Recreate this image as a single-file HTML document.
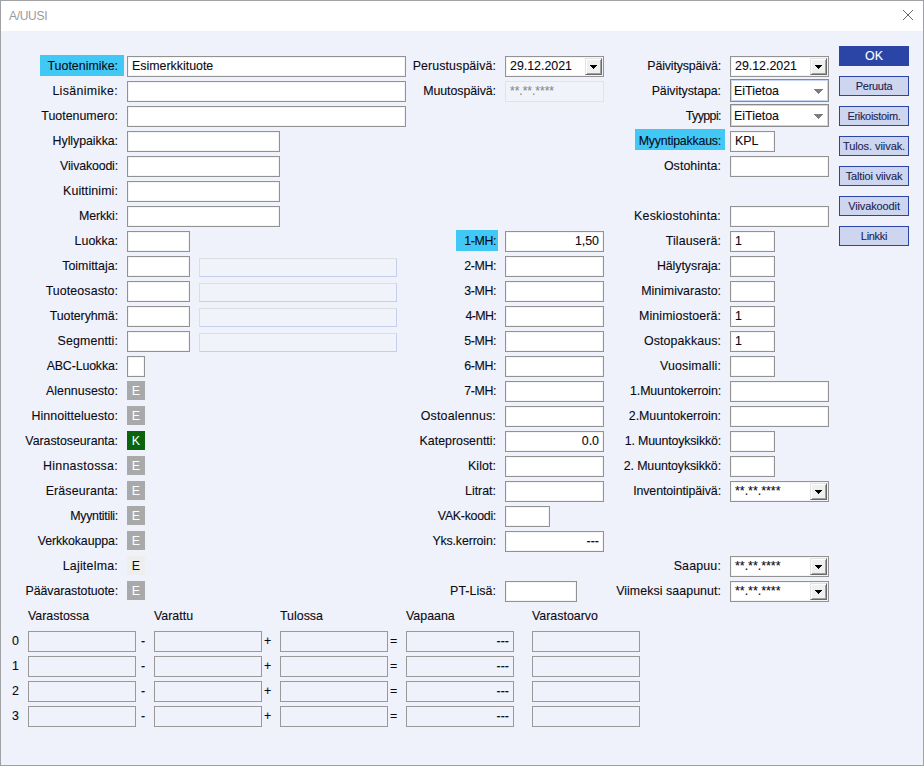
<!DOCTYPE html>
<html><head><meta charset="utf-8"><title>A/UUSI</title>
<style>
html,body{margin:0;padding:0}
body{width:924px;height:766px;overflow:hidden;background:#eff2fa;font-family:"Liberation Sans",sans-serif;font-size:12.4px;color:#0a0a14;-webkit-text-stroke:0.1px;position:relative}
#win{position:absolute;left:0;top:0;width:924px;height:766px;border:1px solid #a0a1a4;background:#eff2fa}
#tb{position:absolute;left:1px;top:1px;width:922px;height:30px;background:#fff}
#tt{-webkit-text-stroke:0;position:absolute;left:8px;top:8px;font-size:12px;letter-spacing:-0.3px;color:#999;line-height:15px}
#cx{position:absolute;left:902px;top:9px}
div{box-sizing:border-box}
.lb{position:absolute;width:200px;text-align:right;height:21px;line-height:20px;white-space:nowrap}
.hl{position:absolute;height:21px;background:#41c8f4}
.in{position:absolute;background:#fff;border:1px solid #929292;box-shadow:inset 0 0 0 1px #f4f4f4;padding:0 4px;white-space:nowrap;overflow:hidden}
.dis{position:absolute;background:#f0f3fa;border:1px solid #dde3f0;padding:0 4px;white-space:nowrap;overflow:hidden}
.d2{border-color:#dedee2 #c5cef0 #c5cef0 #dedee2}
.dst{color:#8a8a8a;font-size:12px}
.dt{padding-left:4px}
.db{position:absolute;display:block;left:79px;top:1px;width:17px;height:17px;box-sizing:border-box;background:#f0f0f0;border:1px solid;border-color:#e3e3e3 #696969 #696969 #e3e3e3;box-shadow:inset 1px 1px 0 #fff,inset -1px -1px 0 #a0a0a0}
.db svg{position:absolute;left:4px;top:6px;display:block}
.cb{position:absolute;width:99px;height:23px;background:#fff;border:1px solid #8a8a8a;box-shadow:inset 0 0 0 1px #c9d3f3;padding:1px 3px 0;line-height:21px;white-space:nowrap}
.cb svg{position:absolute;left:83px;top:9px;display:block}
.fl{-webkit-text-stroke:0;position:absolute;width:18px;height:19px;line-height:21px;text-align:center;color:#fff}
.fl.g{background:#a9a9a9}
.fl.k{background:#0b640b}
.fl.p{background:#eeeeee;color:#111}
.bt{position:absolute;left:839px;width:70px;height:20px;line-height:18px;text-align:center;font-size:11px;letter-spacing:-0.3px;color:#1c2352;background:#cdd5ef;border:1px solid #2b45a7;white-space:nowrap}
.bt.ok{background:#2b45a7;color:#fff;font-size:12.4px;letter-spacing:0}
.th{position:absolute;height:17px;line-height:17px;white-space:nowrap}
.tb{position:absolute;width:108px;height:21px;line-height:19px;border:1px solid #999;background:#eff2fa;text-align:right;padding:0 4px}
</style></head><body>
<div id="win"></div>
<div id="tb"><div id="tt">A/UUSI</div></div>
<svg id="cx" width="12" height="12" viewBox="0 0 12 12"><path d="M1 1 L11 11 M11 1 L1 11" stroke="#666" stroke-width="1" fill="none"/></svg>
<div class="hl" style="left:40px;top:55px;width:84px"></div>
<div class="lb" style="left:-82px;top:56px">Tuotenimike:</div>
<div class="lb" style="left:-82px;top:81px;letter-spacing:0.33px">Lisänimike:</div>
<div class="lb" style="left:-82px;top:106px">Tuotenumero:</div>
<div class="lb" style="left:-82px;top:131px;letter-spacing:-0.06px">Hyllypaikka:</div>
<div class="lb" style="left:-82px;top:156px;letter-spacing:-0.16px">Viivakoodi:</div>
<div class="lb" style="left:-82px;top:181px;letter-spacing:0.11px">Kuittinimi:</div>
<div class="lb" style="left:-82px;top:206px;letter-spacing:-0.13px">Merkki:</div>
<div class="lb" style="left:-82px;top:231px">Luokka:</div>
<div class="lb" style="left:-82px;top:256px">Toimittaja:</div>
<div class="lb" style="left:-82px;top:281px;letter-spacing:0.1px">Tuoteosasto:</div>
<div class="lb" style="left:-82px;top:306px;letter-spacing:-0.08px">Tuoteryhmä:</div>
<div class="lb" style="left:-82px;top:331px;letter-spacing:0.12px">Segmentti:</div>
<div class="lb" style="left:-82px;top:356px;letter-spacing:-0.15px">ABC-Luokka:</div>
<div class="lb" style="left:-82px;top:381px;letter-spacing:0.04px">Alennusesto:</div>
<div class="lb" style="left:-82px;top:406px;letter-spacing:0.07px">Hinnoitteluesto:</div>
<div class="lb" style="left:-82px;top:431px;letter-spacing:-0.05px">Varastoseuranta:</div>
<div class="lb" style="left:-82px;top:456px;letter-spacing:0.28px">Hinnastossa:</div>
<div class="lb" style="left:-82px;top:481px;letter-spacing:0.11px">Eräseuranta:</div>
<div class="lb" style="left:-82px;top:506px;letter-spacing:-0.29px">Myyntitili:</div>
<div class="lb" style="left:-82px;top:531px;letter-spacing:-0.13px">Verkkokauppa:</div>
<div class="lb" style="left:-82px;top:556px;letter-spacing:0.23px">Lajitelma:</div>
<div class="lb" style="left:-82px;top:581px;letter-spacing:-0.07px">Päävarastotuote:</div>
<div class="in" style="left:127px;top:56px;width:279px;height:21px;line-height:19px;">Esimerkkituote</div>
<div class="in" style="left:127px;top:81px;width:279px;height:21px;line-height:19px;"></div>
<div class="in" style="left:127px;top:106px;width:279px;height:21px;line-height:19px;"></div>
<div class="in" style="left:127px;top:131px;width:153px;height:21px;line-height:19px;"></div>
<div class="in" style="left:127px;top:156px;width:153px;height:21px;line-height:19px;"></div>
<div class="in" style="left:127px;top:181px;width:153px;height:21px;line-height:19px;"></div>
<div class="in" style="left:127px;top:206px;width:153px;height:21px;line-height:19px;"></div>
<div class="in" style="left:127px;top:231px;width:63px;height:21px;line-height:19px;"></div>
<div class="in" style="left:127px;top:256px;width:63px;height:21px;line-height:19px;"></div>
<div class="in" style="left:127px;top:281px;width:63px;height:21px;line-height:19px;"></div>
<div class="in" style="left:127px;top:306px;width:63px;height:21px;line-height:19px;"></div>
<div class="in" style="left:127px;top:331px;width:63px;height:21px;line-height:19px;"></div>
<div class="dis d2" style="left:199px;top:258px;width:198px;height:19px;line-height:17px;"></div>
<div class="dis d2" style="left:199px;top:283px;width:198px;height:19px;line-height:17px;"></div>
<div class="dis d2" style="left:199px;top:308px;width:198px;height:19px;line-height:17px;"></div>
<div class="dis d2" style="left:199px;top:333px;width:198px;height:19px;line-height:17px;"></div>
<div class="in" style="left:127px;top:356px;width:18px;height:21px;line-height:19px;"></div>
<div class="fl g" style="left:127px;top:381px">E</div>
<div class="fl g" style="left:127px;top:406px">E</div>
<div class="fl k" style="left:127px;top:431px">K</div>
<div class="fl g" style="left:127px;top:456px">E</div>
<div class="fl g" style="left:127px;top:481px">E</div>
<div class="fl g" style="left:127px;top:506px">E</div>
<div class="fl g" style="left:127px;top:531px">E</div>
<div class="fl p" style="left:127px;top:556px">E</div>
<div class="fl g" style="left:127px;top:581px">E</div>
<div class="lb" style="left:296px;top:56px;letter-spacing:0.09px">Perustuspäivä:</div>
<div class="in dt" style="left:505px;top:56px;width:99px;height:21px;line-height:19px">29.12.2021<span class="db"><svg width="7" height="4" viewBox="0 0 7 4" shape-rendering="crispEdges"><path d="M0 0h7v1h-7zM1 1h5v1h-5zM2 2h3v1h-3zM3 3h1v1h-1z" fill="#000"/></svg></span></div>
<div class="lb" style="left:296px;top:81px;letter-spacing:-0.08px">Muutospäivä:</div>
<div class="dis dst" style="left:505px;top:81px;width:99px;height:21px;line-height:19px;">**.**.****</div>
<div class="hl" style="left:456px;top:230px;width:42px"></div>
<div class="lb" style="left:296px;top:231px;letter-spacing:-0.42px">1-MH:</div>
<div class="in" style="left:505px;top:231px;width:99px;height:21px;line-height:19px;text-align:right;">1,50</div>
<div class="lb" style="left:296px;top:256px;letter-spacing:-0.42px">2-MH:</div>
<div class="in" style="left:505px;top:256px;width:99px;height:21px;line-height:19px;text-align:right;"></div>
<div class="lb" style="left:296px;top:281px;letter-spacing:-0.42px">3-MH:</div>
<div class="in" style="left:505px;top:281px;width:99px;height:21px;line-height:19px;text-align:right;"></div>
<div class="lb" style="left:296px;top:306px;letter-spacing:-0.67px">4-MH:</div>
<div class="in" style="left:505px;top:306px;width:99px;height:21px;line-height:19px;text-align:right;"></div>
<div class="lb" style="left:296px;top:331px;letter-spacing:-0.42px">5-MH:</div>
<div class="in" style="left:505px;top:331px;width:99px;height:21px;line-height:19px;text-align:right;"></div>
<div class="lb" style="left:296px;top:356px;letter-spacing:-0.42px">6-MH:</div>
<div class="in" style="left:505px;top:356px;width:99px;height:21px;line-height:19px;text-align:right;"></div>
<div class="lb" style="left:296px;top:381px;letter-spacing:-0.42px">7-MH:</div>
<div class="in" style="left:505px;top:381px;width:99px;height:21px;line-height:19px;text-align:right;"></div>
<div class="lb" style="left:296px;top:406px;letter-spacing:0.19px">Ostoalennus:</div>
<div class="in" style="left:505px;top:406px;width:99px;height:21px;line-height:19px;text-align:right;"></div>
<div class="lb" style="left:296px;top:431px">Kateprosentti:</div>
<div class="in" style="left:505px;top:431px;width:99px;height:21px;line-height:19px;text-align:right;">0.0</div>
<div class="lb" style="left:296px;top:456px;letter-spacing:0.08px">Kilot:</div>
<div class="in" style="left:505px;top:456px;width:99px;height:21px;line-height:19px;text-align:right;"></div>
<div class="lb" style="left:296px;top:481px">Litrat:</div>
<div class="in" style="left:505px;top:481px;width:99px;height:21px;line-height:19px;text-align:right;"></div>
<div class="lb" style="left:296px;top:506px;letter-spacing:-0.29px">VAK-koodi:</div>
<div class="in" style="left:505px;top:506px;width:45px;height:21px;line-height:19px;"></div>
<div class="lb" style="left:296px;top:531px;letter-spacing:-0.15px">Yks.kerroin:</div>
<div class="in" style="left:505px;top:531px;width:99px;height:21px;line-height:19px;text-align:right;">---</div>
<div class="lb" style="left:296px;top:581px;letter-spacing:0.06px">PT-Lisä:</div>
<div class="in" style="left:505px;top:581px;width:72px;height:21px;line-height:19px;"></div>
<div class="lb" style="left:521px;top:56px;letter-spacing:-0.15px">Päivityspäivä:</div>
<div class="in dt" style="left:730px;top:56px;width:99px;height:21px;line-height:19px">29.12.2021<span class="db"><svg width="7" height="4" viewBox="0 0 7 4" shape-rendering="crispEdges"><path d="M0 0h7v1h-7zM1 1h5v1h-5zM2 2h3v1h-3zM3 3h1v1h-1z" fill="#000"/></svg></span></div>
<div class="lb" style="left:521px;top:81px;letter-spacing:-0.07px">Päivitystapa:</div>
<div class="cb" style="left:730px;top:79px">EiTietoa<svg width="9" height="5" viewBox="0 0 9 5" shape-rendering="crispEdges"><path d="M0 0h9v1h-9zM1 1h7v1h-7zM2 2h5v1h-5zM3 3h3v1h-3zM4 4h1v1h-1z" fill="#7d7d7d"/></svg></div>
<div class="lb" style="left:521px;top:106px;letter-spacing:-0.57px">Tyyppi:</div>
<div class="cb" style="left:730px;top:104px">EiTietoa<svg width="9" height="5" viewBox="0 0 9 5" shape-rendering="crispEdges"><path d="M0 0h9v1h-9zM1 1h7v1h-7zM2 2h5v1h-5zM3 3h3v1h-3zM4 4h1v1h-1z" fill="#7d7d7d"/></svg></div>
<div class="hl" style="left:635px;top:129px;width:90px"></div>
<div class="lb" style="left:521px;top:131px;letter-spacing:-0.22px">Myyntipakkaus:</div>
<div class="in" style="left:730px;top:131px;width:45px;height:21px;line-height:19px;">KPL</div>
<div class="lb" style="left:521px;top:156px;letter-spacing:0.06px">Ostohinta:</div>
<div class="in" style="left:730px;top:156px;width:99px;height:21px;line-height:19px;"></div>
<div class="lb" style="left:521px;top:206px;letter-spacing:0.19px">Keskiostohinta:</div>
<div class="in" style="left:730px;top:206px;width:99px;height:21px;line-height:19px;"></div>
<div class="lb" style="left:521px;top:231px;letter-spacing:0.13px">Tilauserä:</div>
<div class="in" style="left:730px;top:231px;width:45px;height:21px;line-height:19px;">1</div>
<div class="lb" style="left:521px;top:256px;letter-spacing:-0.05px">Hälytysraja:</div>
<div class="in" style="left:730px;top:256px;width:45px;height:21px;line-height:19px;"></div>
<div class="lb" style="left:521px;top:281px">Minimivarasto:</div>
<div class="in" style="left:730px;top:281px;width:45px;height:21px;line-height:19px;"></div>
<div class="lb" style="left:521px;top:306px;letter-spacing:0.1px">Minimiostoerä:</div>
<div class="in" style="left:730px;top:306px;width:45px;height:21px;line-height:19px;">1</div>
<div class="lb" style="left:521px;top:331px;letter-spacing:0.1px">Ostopakkaus:</div>
<div class="in" style="left:730px;top:331px;width:45px;height:21px;line-height:19px;">1</div>
<div class="lb" style="left:521px;top:356px;letter-spacing:0.13px">Vuosimalli:</div>
<div class="in" style="left:730px;top:356px;width:45px;height:21px;line-height:19px;"></div>
<div class="lb" style="left:521px;top:381px;letter-spacing:-0.13px">1.Muuntokerroin:</div>
<div class="in" style="left:730px;top:381px;width:99px;height:21px;line-height:19px;"></div>
<div class="lb" style="left:521px;top:406px;letter-spacing:-0.05px">2.Muuntokerroin:</div>
<div class="in" style="left:730px;top:406px;width:99px;height:21px;line-height:19px;"></div>
<div class="lb" style="left:521px;top:431px;letter-spacing:-0.17px">1. Muuntoyksikkö:</div>
<div class="in" style="left:730px;top:431px;width:45px;height:21px;line-height:19px;"></div>
<div class="lb" style="left:521px;top:456px;letter-spacing:-0.11px">2. Muuntoyksikkö:</div>
<div class="in" style="left:730px;top:456px;width:45px;height:21px;line-height:19px;"></div>
<div class="lb" style="left:521px;top:481px;letter-spacing:-0.1px">Inventointipäivä:</div>
<div class="in dt" style="left:730px;top:481px;width:99px;height:21px;line-height:19px">**.**.****<span class="db"><svg width="7" height="4" viewBox="0 0 7 4" shape-rendering="crispEdges"><path d="M0 0h7v1h-7zM1 1h5v1h-5zM2 2h3v1h-3zM3 3h1v1h-1z" fill="#000"/></svg></span></div>
<div class="lb" style="left:521px;top:556px;letter-spacing:0.17px">Saapuu:</div>
<div class="in dt" style="left:730px;top:556px;width:99px;height:21px;line-height:19px">**.**.****<span class="db"><svg width="7" height="4" viewBox="0 0 7 4" shape-rendering="crispEdges"><path d="M0 0h7v1h-7zM1 1h5v1h-5zM2 2h3v1h-3zM3 3h1v1h-1z" fill="#000"/></svg></span></div>
<div class="lb" style="left:521px;top:581px;letter-spacing:0.06px">Viimeksi saapunut:</div>
<div class="in dt" style="left:730px;top:581px;width:99px;height:21px;line-height:19px">**.**.****<span class="db"><svg width="7" height="4" viewBox="0 0 7 4" shape-rendering="crispEdges"><path d="M0 0h7v1h-7zM1 1h5v1h-5zM2 2h3v1h-3zM3 3h1v1h-1z" fill="#000"/></svg></span></div>
<div class="bt ok" style="top:46px">OK</div>
<div class="bt" style="top:76px">Peruuta</div>
<div class="bt" style="top:106px">Erikoistoim.</div>
<div class="bt" style="top:136px;letter-spacing:-0.07px">Tulos. viivak.</div>
<div class="bt" style="top:166px;letter-spacing:-0.15px">Taltioi viivak</div>
<div class="bt" style="top:196px;letter-spacing:-0.12px">Viivakoodit</div>
<div class="bt" style="top:226px">Linkki</div>
<div class="th" style="left:28px;top:608px">Varastossa</div>
<div class="th" style="left:154px;top:608px">Varattu</div>
<div class="th" style="left:280px;top:608px">Tulossa</div>
<div class="th" style="left:406px;top:608px">Vapaana</div>
<div class="th" style="left:532px;top:608px">Varastoarvo</div>
<div class="th" style="left:12px;top:633px">0</div>
<div class="tb" style="left:28px;top:631px"></div>
<div class="tb" style="left:154px;top:631px"></div>
<div class="tb" style="left:280px;top:631px"></div>
<div class="tb" style="left:406px;top:631px">---</div>
<div class="tb" style="left:532px;top:631px"></div>
<div class="th" style="left:141px;top:633px">-</div>
<div class="th" style="left:264px;top:633px">+</div>
<div class="th" style="left:390px;top:633px">=</div>
<div class="th" style="left:12px;top:658px">1</div>
<div class="tb" style="left:28px;top:656px"></div>
<div class="tb" style="left:154px;top:656px"></div>
<div class="tb" style="left:280px;top:656px"></div>
<div class="tb" style="left:406px;top:656px">---</div>
<div class="tb" style="left:532px;top:656px"></div>
<div class="th" style="left:141px;top:658px">-</div>
<div class="th" style="left:264px;top:658px">+</div>
<div class="th" style="left:390px;top:658px">=</div>
<div class="th" style="left:12px;top:683px">2</div>
<div class="tb" style="left:28px;top:681px"></div>
<div class="tb" style="left:154px;top:681px"></div>
<div class="tb" style="left:280px;top:681px"></div>
<div class="tb" style="left:406px;top:681px">---</div>
<div class="tb" style="left:532px;top:681px"></div>
<div class="th" style="left:141px;top:683px">-</div>
<div class="th" style="left:264px;top:683px">+</div>
<div class="th" style="left:390px;top:683px">=</div>
<div class="th" style="left:12px;top:708px">3</div>
<div class="tb" style="left:28px;top:706px"></div>
<div class="tb" style="left:154px;top:706px"></div>
<div class="tb" style="left:280px;top:706px"></div>
<div class="tb" style="left:406px;top:706px">---</div>
<div class="tb" style="left:532px;top:706px"></div>
<div class="th" style="left:141px;top:708px">-</div>
<div class="th" style="left:264px;top:708px">+</div>
<div class="th" style="left:390px;top:708px">=</div>
</body></html>
